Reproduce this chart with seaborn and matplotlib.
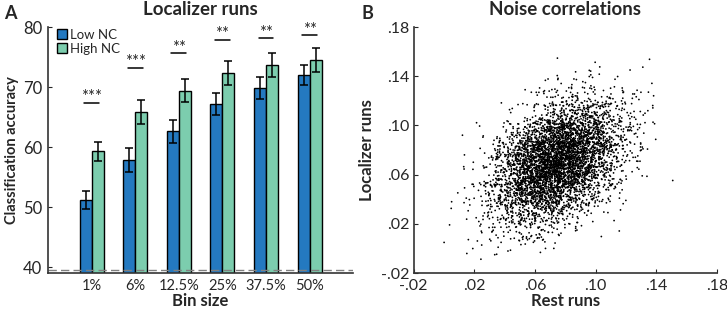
#!/usr/bin/env python
# -*-Mode: python;-*-

import sys

import numpy as np
import pandas
import matplotlib
matplotlib.use('Agg')
import matplotlib.pyplot as plt
import seaborn as sns

#****************************************************************************
# data
#****************************************************************************

binL = ['1%', '6%', '12.5%', '25%', '37.5%', '50%']
groupL = ['Low NC', 'High NC']

accLow = [51.2, 57.9, 62.6, 67.2, 69.8, 72.0]
accHigh = [59.3, 65.9, 69.4, 72.3, 73.6, 74.5]
errLow = [1.5, 2.0, 1.9, 1.8, 1.8, 1.7]
errHigh = [1.6, 2.0, 1.9, 2.0, 2.0, 2.0]

sigL = ['***', '***', '**', '**', '**', '**']
sigY = [67.4, 73.2, 75.6, 77.9, 78.1, 78.6]

chance = 39.5

# noise-correlation cloud: summary (too many points to read singly)
nc_n = 5000
nc_mean = [0.075, 0.070]
nc_sd = [0.021, 0.025]
nc_r = 0.38

colorH = {'Low NC': '#2479c0', 'High NC': '#7ccdae'}

FONT = ['Lato', 'DejaVu Sans']

#****************************************************************************

def main():
    sns.set_style('ticks')
    plt.rcParams['font.family'] = FONT
    plt.rcParams['font.size'] = 11

    fig = plt.figure(figsize=(7.27, 3.11), dpi=100)
    axA = fig.add_axes([0.066, 0.122, 0.420, 0.791])
    axB = fig.add_axes([0.569, 0.122, 0.417, 0.791])

    plot_bars(axA)
    plot_scatter(axB)

    fig.text(0.006, 0.985, 'A', fontsize=13, fontweight='bold', va='top')
    fig.text(0.497, 0.985, 'B', fontsize=13, fontweight='bold', va='top')

    fig.savefig('out.png', dpi=100)


def plot_bars(axes):
    dfrm = pandas.DataFrame({
        'bin': binL * 2,
        'group': [groupL[0]] * len(binL) + [groupL[1]] * len(binL),
        'acc': accLow + accHigh,
        'err': errLow + errHigh})

    sns.barplot(data=dfrm, x='bin', y='acc', hue='group', ax=axes,
                palette=colorH, edgecolor='black', linewidth=1.0,
                width=0.55, errorbar=None, saturation=1)

    # error bars on the bar centres
    for cont, grp in zip(axes.containers, groupL):
        sub = dfrm[dfrm['group'] == grp]
        xs = [b.get_x() + b.get_width() / 2 for b in cont]
        axes.errorbar(xs, sub['acc'], yerr=sub['err'], fmt='none',
                      ecolor='black', elinewidth=1.1, capsize=3, capthick=1.1)

    for i in range(len(binL)):
        axes.plot([i - 0.17, i + 0.17], [sigY[i], sigY[i]], color='black', lw=1.1)
        axes.text(i, sigY[i] + 0.9, sigL[i], ha='center', va='center', fontsize=12)

    axes.axhline(chance, color='gray', lw=1.0, ls=(0, (6, 3)))

    axes.set_xlim(-1, len(binL))
    axes.set_ylim(39, 80)
    axes.set_yticks([40, 50, 60, 70, 80])
    axes.tick_params(axis='x', length=0, labelsize=10.5, pad=4)
    axes.tick_params(axis='y', direction='in', length=3, labelsize=12, pad=4)
    axes.set_xlabel('Bin size', fontsize=12, fontweight='bold', labelpad=0)
    axes.set_ylabel('Classification accuracy', fontsize=10.5, fontweight='bold', labelpad=3)
    axes.set_title('Localizer runs', fontsize=13.5, fontweight='bold', pad=9)
    for s in ['left', 'bottom']:
        axes.spines[s].set_color('#333333')
        axes.spines[s].set_linewidth(1.2)
    sns.despine(ax=axes)

    leg = axes.legend(loc='upper left', bbox_to_anchor=(0.0, 1.03), frameon=False,
                      fontsize=9.5, handlelength=0.75, handleheight=0.75,
                      handletextpad=0.2, labelspacing=0.15, borderaxespad=0.3)
    for h in leg.legend_handles:
        h.set_edgecolor('black')


def plot_scatter(axes):
    cov = [[nc_sd[0] ** 2, nc_r * nc_sd[0] * nc_sd[1]],
           [nc_r * nc_sd[0] * nc_sd[1], nc_sd[1] ** 2]]
    rng = np.random.default_rng(7)
    pts = rng.multivariate_normal(nc_mean, cov, size=nc_n)
    dfrm = pandas.DataFrame({'rest': pts[:, 0], 'loc': pts[:, 1]})

    sns.scatterplot(data=dfrm, x='rest', y='loc', ax=axes, s=1.6,
                    color='black', linewidth=0, edgecolor='none')

    ticks = [-0.02, 0.02, 0.06, 0.10, 0.14, 0.18]
    tlab = [fmt_tick(t) for t in ticks]
    axes.set_xlim(-0.02, 0.18)
    axes.set_ylim(-0.02, 0.18)
    axes.set_xticks(ticks)
    axes.set_xticklabels(tlab)
    axes.set_yticks(ticks)
    axes.set_yticklabels(tlab)
    axes.tick_params(direction='in', length=3, labelsize=11.5)
    axes.tick_params(axis='x', pad=4)
    axes.tick_params(axis='y', pad=3)
    axes.set_xlabel('Rest runs', fontsize=12, fontweight='bold', labelpad=0)
    axes.set_ylabel('Localizer runs', fontsize=12, fontweight='bold', labelpad=4)
    axes.set_title('Noise correlations', fontsize=13.5, fontweight='bold', pad=9)
    for s in ['left', 'bottom']:
        axes.spines[s].set_color('#333333')
        axes.spines[s].set_linewidth(1.2)
    sns.despine(ax=axes)


def fmt_tick(t):
    s = '%.2f' % t
    return s.replace('0.', '.')


#****************************************************************************

if (__name__ == "__main__"):
    sys.exit(main())
